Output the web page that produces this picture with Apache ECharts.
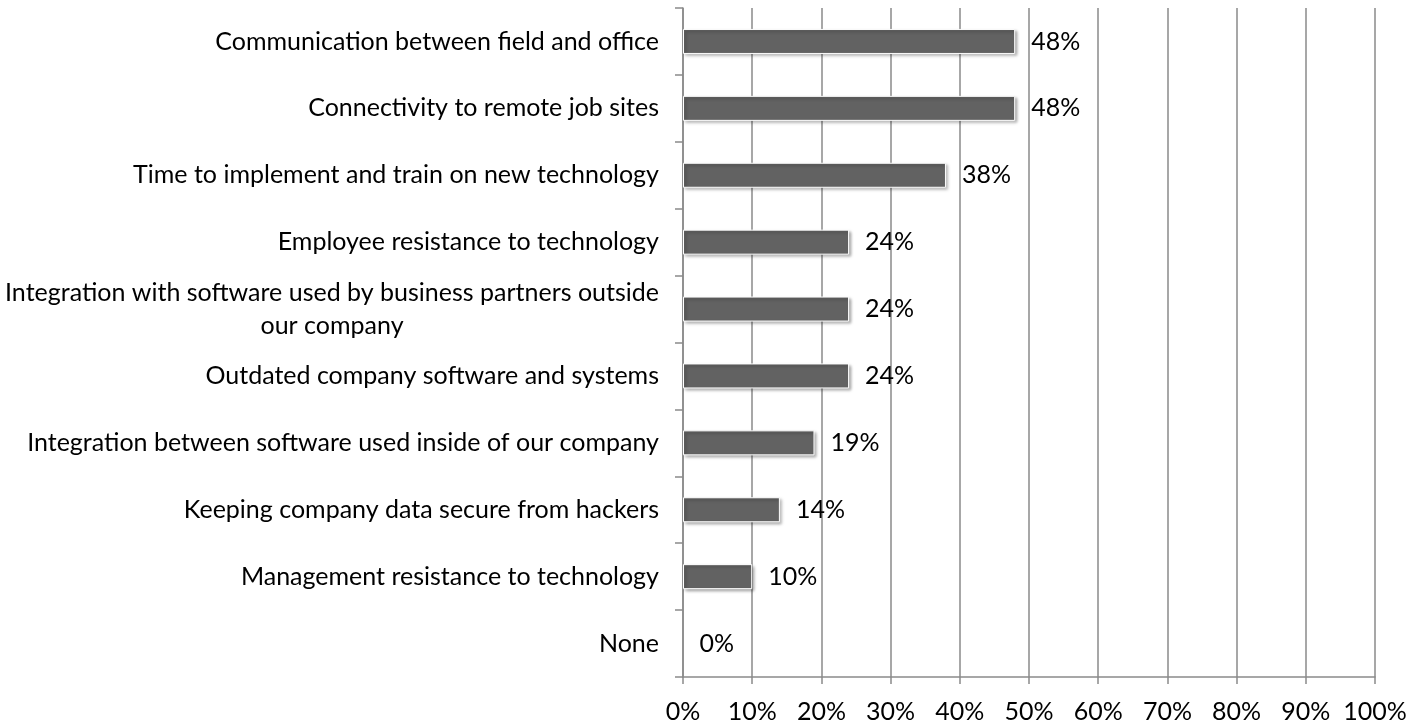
<!DOCTYPE html>
<html>
<head>
<meta charset="utf-8">
<title>Technology challenges</title>
<script src="https://cdn.jsdelivr.net/npm/echarts@6/dist/echarts.min.js"></script>
<style>
  html, body { margin: 0; padding: 0; background: #fff; }
  #main { width: 1424px; height: 724px; }
</style>
</head>
<body>
<div id="main"></div>
<script>
// categories, bottom to top (category axis draws the first item at the bottom)
var categories = [
    'None',
    'Management resistance to technology',
    'Keeping company data secure from hackers',
    'Integration between software used inside of our company',
    'Outdated company software and systems',
    'Integration with software used by business partners outside\nour company',
    'Employee resistance to technology',
    'Time to implement and train on new technology',
    'Connectivity to remote job sites',
    'Communication between field and office'
];
var values = [0, 10, 14, 19, 24, 24, 24, 38, 48, 48];
var xTicks = [0, 10, 20, 30, 40, 50, 60, 70, 80, 90, 100];

var FONT = 'Lato';
var FONT_SIZE = 25;
var GRID_COLOR = '#8a8a8a';

var chart = echarts.init(document.getElementById('main'));

// zero-length bars get no visible mark (no border / shadow sliver)
var barData = values.map(function (v) {
    return v === 0 ? { value: v, itemStyle: { opacity: 0 } } : v;
});

chart.setOption({
    animation: false,
    textStyle: { fontFamily: FONT },
    grid: { left: 683, right: 49, top: 8, bottom: 47, containLabel: false },
    xAxis: {
        type: 'value',
        min: xTicks[0],
        max: xTicks[xTicks.length - 1],
        interval: 10,
        axisLine: { show: true, lineStyle: { color: GRID_COLOR, width: 1.5 } },
        axisTick: { show: true, length: 7, lineStyle: { color: GRID_COLOR, width: 1.5 } },
        splitLine: { show: true, lineStyle: { color: GRID_COLOR, width: 1.5 } },
        axisLabel: {
            margin: 22,
            color: '#000',
            fontSize: FONT_SIZE,
            fontFamily: FONT,
            formatter: '{value}%'
        }
    },
    yAxis: {
        type: 'category',
        data: categories,
        axisLine: { show: true, lineStyle: { color: GRID_COLOR, width: 1.5 } },
        axisTick: { show: true, length: 8, lineStyle: { color: GRID_COLOR, width: 1.5 } },
        axisLabel: {
            margin: 24,
            interval: 0,
            formatter: function (v) {
                return v.split('\n').map(function (s) { return '{c|' + s + '}'; }).join('\n');
            },
            rich: {
                c: { align: 'center', color: '#000', fontSize: FONT_SIZE, fontFamily: FONT, lineHeight: 33 }
            }
        }
    },
    series: [{
        type: 'bar',
        data: barData,
        barWidth: 25,
        itemStyle: {
            color: '#626262',
            borderColor: '#ffffff',
            borderWidth: 1,
            shadowColor: 'rgba(0,0,0,0.35)',
            shadowBlur: 3,
            shadowOffsetX: 2,
            shadowOffsetY: 2
        },
        label: {
            show: true,
            position: 'right',
            distance: 16,
            color: '#000',
            opacity: 1,
            fontSize: FONT_SIZE,
            fontFamily: FONT,
            formatter: '{c}%'
        }
    }]
});
</script>
</body>
</html>
